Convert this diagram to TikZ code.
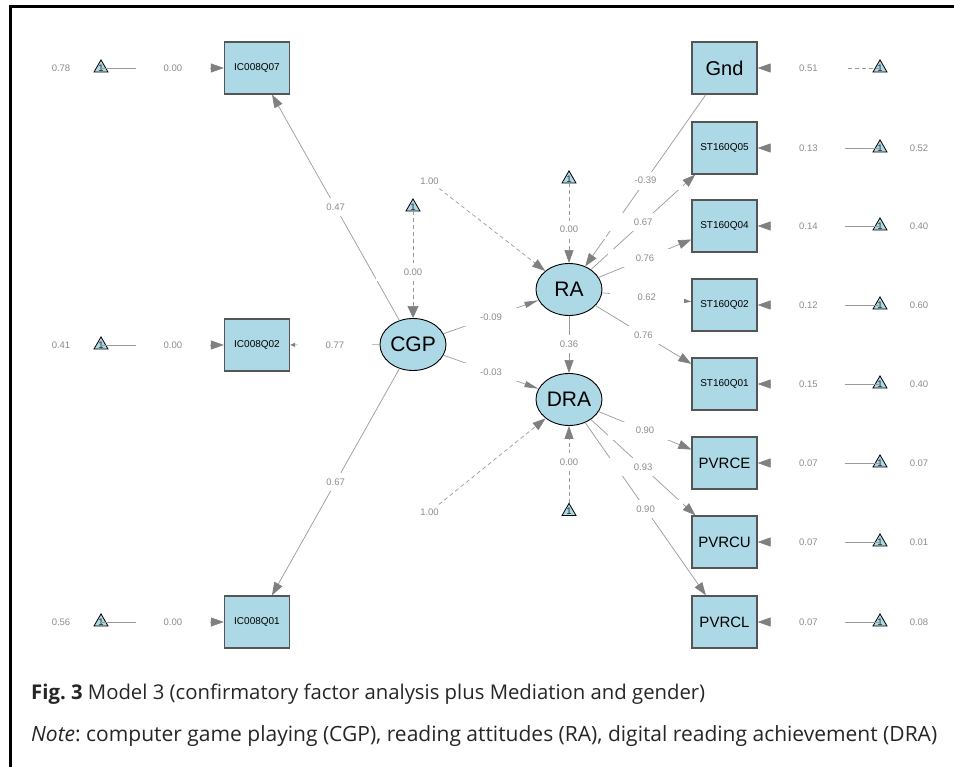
\documentclass[tikz,border=0pt]{standalone}
\usepackage{fontspec}
\setmainfont{Liberation Sans}
\newfontfamily\capfont{Open Sans}
\usetikzlibrary{arrows.meta,shapes.geometric,calc}
\definecolor{lb}{HTML}{ADD8E6}
\definecolor{edgegray}{HTML}{9A9A9A}
\definecolor{tipgray}{HTML}{808080}
\definecolor{lblgray}{HTML}{8C8C8C}
\definecolor{boxdraw}{HTML}{555555}
\definecolor{captxt}{HTML}{262626}
\begin{document}
\frenchspacing
\begin{tikzpicture}[x=1pt,y=-1pt,
 mv/.style={draw=boxdraw, line width=1.3pt, fill=lb, minimum width=65pt, minimum height=52pt, inner sep=0pt, text=black},
 mvs/.style={mv, font=\fontsize{10}{10}\selectfont},
 mvb/.style={mv, font=\fontsize{15}{15}\selectfont},
 lv/.style={ellipse, draw=black, line width=0.9pt, fill=lb, minimum width=66pt, minimum height=52pt, inner sep=0pt, font=\fontsize{21}{21}\selectfont},
 tri/.style={regular polygon, regular polygon sides=3, draw=black, line width=0.8pt, fill=lb, minimum size=16.2pt, inner sep=0pt,
   label={[font=\fontsize{9.5}{9.5}\selectfont, inner sep=0pt, text=black!85]center:1}},
 e/.style={draw=edgegray, line width=0.7pt, -{Triangle[length=13pt,width=9pt,color=tipgray]}},
 ed/.style={e, dash pattern=on 4pt off 3pt},
 el/.style={fill=white, text=lblgray, minimum width=74pt, minimum height=18pt, inner sep=0pt, font=\fontsize{9.5}{9.5}\selectfont},
 tl/.style={text=lblgray, inner sep=0pt, font=\fontsize{9.5}{9.5}\selectfont},
 src/.style={text=lblgray, inner sep=4pt, font=\fontsize{9.5}{9.5}\selectfont},
 captext/.style={anchor=base west, inner sep=0pt, text=captxt, font=\capfont\fontsize{18}{18}\selectfont}]
\useasboundingbox (0,0) rectangle (954,767);
\fill[white] (0,0) rectangle (954,767);
% frame
\draw[line width=3pt] (10.5,767) -- (10.5,6.5) -- (954,6.5);
% manifest variables
\node[mvs] (ic7) at (257,68) {IC008Q07};
\node[mvs] (ic2) at (257,345) {IC008Q02};
\node[mvs] (ic1) at (257,622) {IC008Q01};
\node[mv, font=\fontsize{20}{20}\selectfont] (gnd) at (724.5,68) {Gnd};
\node[mvs] (st5) at (724.5,148) {ST160Q05};
\node[mvs] (st4) at (724.5,226) {ST160Q04};
\node[mvs] (st2) at (724.5,305) {ST160Q02};
\node[mvs] (st1) at (724.5,384) {ST160Q01};
\node[mvb] (pe) at (724.5,463) {PVRCE};
\node[mvb] (pu) at (724.5,542) {PVRCU};
\node[mvb] (pl) at (724.5,622) {PVRCL};
% latent variables
\node[lv] (cgp) at (413,344.5) {CGP};
\node[lv] (ra) at (569,289.5) {RA};
\node[lv] (dra) at (569,399.5) {DRA};
% intercept triangles
\node[tri] (t7) at (101,68) {};
\node[tri] (t2) at (101,345) {};
\node[tri] (t1) at (101,622) {};
\node[tri] (tg) at (880,68) {};
\node[tri] (ts5) at (880,148) {};
\node[tri] (ts4) at (880,226) {};
\node[tri] (ts2) at (880,305) {};
\node[tri] (ts1) at (880,384) {};
\node[tri] (tpe) at (880,463) {};
\node[tri] (tpu) at (880,542) {};
\node[tri] (tpl) at (880,622) {};
\node[tri] (tc) at (413,207) {};
\node[tri] (tra) at (569,179) {};
\node[tri] (tdra) at (569,511.5) {};
% sources of the 1.00 edges
\node[src] (s1) at (429.5,181) {1.00};
\node[src] (s2) at (429.5,512) {1.00};
% edges
\draw[e] (t7.center) -- coordinate[pos=.585] (a7) (ic7);
\draw[e] (t2.center) -- coordinate[pos=.585] (a2) (ic2);
\draw[e] (t1.center) -- coordinate[pos=.585] (a1) (ic1);
\draw[ed] (tg.center) -- coordinate[pos=.585] (ag) (gnd);
\draw[e] (ts5.center) -- coordinate[pos=.585] (as5) (st5);
\draw[e] (ts4.center) -- coordinate[pos=.585] (as4) (st4);
\draw[e] (ts2.center) -- coordinate[pos=.585] (as2) (st2);
\draw[e] (ts1.center) -- coordinate[pos=.585] (as1) (st1);
\draw[e] (tpe.center) -- coordinate[pos=.585] (ape) (pe);
\draw[e] (tpu.center) -- coordinate[pos=.585] (apu) (pu);
\draw[e] (tpl.center) -- coordinate[pos=.585] (apl) (pl);
\draw[e] (cgp) -- coordinate (b7) (ic7);
\draw[e, -{Triangle[length=5pt,width=4pt,color=tipgray]}] (cgp) -- coordinate (b2) (ic2);
\draw[e] (cgp) -- coordinate (b1) (ic1);
\draw[ed, -{Triangle[length=12pt,width=11pt,color=tipgray]}] (tc) -- coordinate[pos=.57] (bc) (cgp);
\draw[ed] (tra) -- coordinate[pos=.58] (bra) (ra);
\draw[ed] (tdra) -- coordinate[pos=.53] (bdra) (dra);
\draw[ed] (s1) -- (ra);
\draw[ed] (s2) -- (dra);
\draw[e, -{Triangle[length=14pt,width=6pt,color=tipgray]}] (cgp) -- coordinate (c1) (ra);
\draw[e, -{Triangle[length=14pt,width=6pt,color=tipgray]}] (cgp) -- coordinate (c2) (dra);
\draw[e] (ra) -- coordinate (c3) (dra);
\draw[e] (gnd) -- coordinate (c4) (ra);
\draw[e] (ra) -- coordinate (d5) (st5);
\draw[e] (ra) -- coordinate (d4) (st4);
\draw[e, -{Triangle[length=9pt,width=5pt,color=tipgray]}] (ra) -- coordinate (d2) (st2);
\draw[e] (ra) -- coordinate (d1) (st1);
\draw[e] (dra) -- coordinate (fe) (pe);
\draw[e] (dra) -- coordinate (fu) (pu);
\draw[e] (dra) -- coordinate (fl) (pl);
% edge labels
\node[el] at (a7) {0.00};
\node[el] at (a2) {0.00};
\node[el] at (a1) {0.00};
\node[el] at (ag) {0.51};
\node[el] at (as5) {0.13};
\node[el] at (as4) {0.14};
\node[el] at (as2) {0.12};
\node[el] at (as1) {0.15};
\node[el] at (ape) {0.07};
\node[el] at (apu) {0.07};
\node[el] at (apl) {0.07};
\node[el] at (b7) {0.47};
\node[el] at (b2) {0.77};
\node[el] at (b1) {0.67};
\node[el] at (bc) {0.00};
\node[el] at (bra) {0.00};
\node[el] at (bdra) {0.00};
\node[el] at (c1) {-0.09};
\node[el] at (c2) {-0.03};
\node[el] at (c3) {0.36};
\node[el] at (c4) {-0.39};
\node[el] at (d5) {0.67};
\node[el] at (d4) {0.76};
\node[el] at (d2) {0.62};
\node[el] at (d1) {0.76};
\node[el] at (fe) {0.90};
\node[el] at (fu) {0.93};
\node[el] at (fl) {0.90};
% triangle side labels
\node[tl] at ([xshift=-40pt]t7.center) {0.78};
\node[tl] at ([xshift=-40pt]t2.center) {0.41};
\node[tl] at ([xshift=-40pt]t1.center) {0.56};
\node[tl] at ([xshift=39pt]ts5.center) {0.52};
\node[tl] at ([xshift=39pt]ts4.center) {0.40};
\node[tl] at ([xshift=39pt]ts2.center) {0.60};
\node[tl] at ([xshift=39pt]ts1.center) {0.40};
\node[tl] at ([xshift=39pt]tpe.center) {0.07};
\node[tl] at ([xshift=39pt]tpu.center) {0.01};
\node[tl] at ([xshift=39pt]tpl.center) {0.08};
% caption
\node[captext] (cap1) at (31,699.5)
  {\resizebox{674pt}{!}{\textbf{Fig. 3} Model 3 (confirmatory factor analysis plus Mediation and gender)}};
\node[captext] (cap2) at (31,741.5)
  {\resizebox{906pt}{!}{\textit{Note}: computer game playing (CGP), reading attitudes (RA), digital reading achievement (DRA)}};
\end{tikzpicture}
\end{document}
